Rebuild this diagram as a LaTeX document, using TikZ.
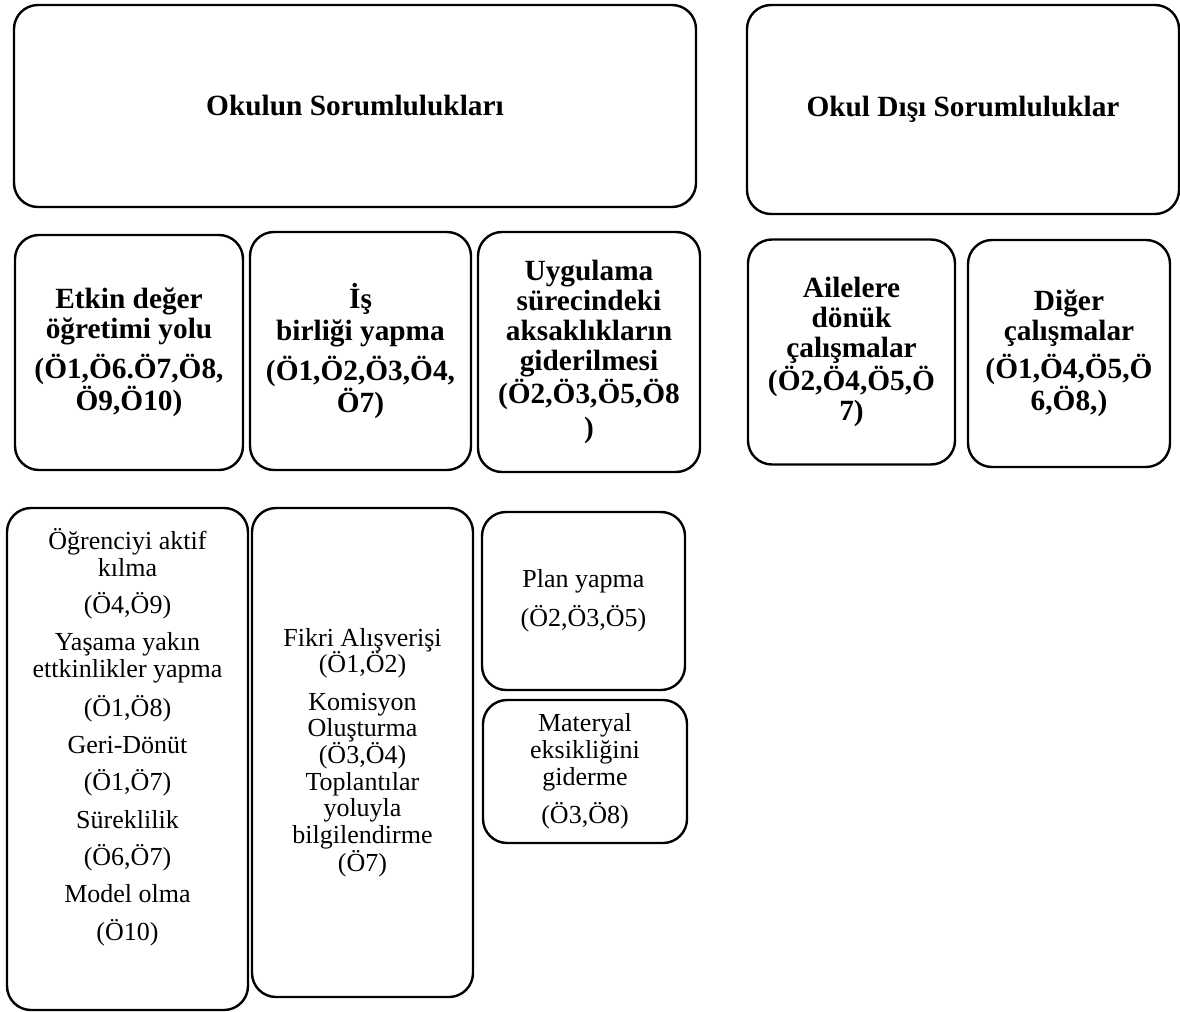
\documentclass[tikz,border=0pt]{standalone}
\usepackage{fontspec}
\setmainfont{Liberation Serif}
\tikzset{every picture/.style={line width=0.75pt}}
\tikzset{
	rbox/.style={draw, line width=1.8pt, rounded corners=18pt, align=center, inner sep=0pt},
	headtxt/.style={font=\fontsize{22}{22.5}\selectfont\bfseries},
	itemtxt/.style={font=\fontsize{19.5}{20}\selectfont}}

\begin{document}
\begin{tikzpicture}[x=0.75pt,y=0.75pt,yscale=-1,xscale=1]
	\useasboundingbox (0,0) rectangle (1180,1012);

	%Rounded Rect [okul]
	\node [rbox, headtxt, minimum width=511.5pt, minimum height=151.5pt] (okul) at (355,106) {Okulun Sorumlulukları};
	%Rounded Rect [disi]
	\node [rbox, headtxt, minimum width=324pt, minimum height=156.75pt] (disi) at (963,109.5) {Okul Dışı Sorumluluklar};

	%Rounded Rect [etkin]
	\node [rbox, headtxt, minimum width=171pt, minimum height=176.25pt] (etkin) at (129,352.5) {Etkin değer\\öğretimi yolu\\[6pt](Ö1,Ö6.Ö7,Ö8,\\Ö9,Ö10)};
	%Rounded Rect [isbir]
	\node [rbox, headtxt, minimum width=165.75pt, minimum height=178.5pt] (isbir) at (360.5,351) {İş\\[2pt]birliği yapma\\[6pt](Ö1,Ö2,Ö3,Ö4,\\Ö7)};
	%Rounded Rect [aksak]
	\node [rbox, headtxt, minimum width=166.5pt, minimum height=180pt] (aksak) at (589,352) {Uygulama\\sürecindeki\\aksaklıkların\\giderilmesi\\[0.5pt](Ö2,Ö3,Ö5,Ö8\\[3pt])};
	%Rounded Rect [aile]
	\node [rbox, headtxt, minimum width=155.25pt, minimum height=168.75pt] (aile) at (851.5,352) {Ailelere\\dönük\\çalışmalar\\[1pt](Ö2,Ö4,Ö5,Ö\\7)};
	%Rounded Rect [diger]
	\node [rbox, headtxt, minimum width=151.5pt, minimum height=170.25pt] (diger) at (1069,353.5) {Diğer\\çalışmalar\\[4.5pt](Ö1,Ö4,Ö5,Ö\\6,Ö8,)};

	%Rounded Rect [actv]
	\node [rbox, minimum width=180.75pt, minimum height=376.5pt] (actv) at (127.5,759) {};
	% Text Node
	\node [itemtxt, align=center] (actvtxt) at (127.5,737) {Öğrenciyi aktif\\kılma\\[8pt](Ö4,Ö9)\\[8pt]Yaşama yakın\\ettkinlikler yapma\\[8pt](Ö1,Ö8)\\[8pt]Geri-Dönüt\\[8pt](Ö1,Ö7)\\[8pt]Süreklilik\\[8pt](Ö6,Ö7)\\[8pt]Model olma\\[8pt](Ö10)};
	%Rounded Rect [fikir]
	\node [rbox, itemtxt, minimum width=165.75pt, minimum height=366.75pt] (fikir) at (362.5,752.5) {Fikri Alışverişi\\(Ö1,Ö2)\\[8pt]Komisyon\\Oluşturma\\(Ö3,Ö4)\\Toplantılar\\yoluyla\\bilgilendirme\\(Ö7)};
	%Rounded Rect [plan]
	\node [rbox, itemtxt, minimum width=152.25pt, minimum height=133.5pt] (plan) at (583.5,601) {Plan yapma\\[8pt](Ö2,Ö3,Ö5)};
	%Rounded Rect [mater]
	\node [rbox, itemtxt, minimum width=153pt, minimum height=107.25pt] (mater) at (585,771.5) {Materyal\\eksikliğini\\giderme\\[8pt](Ö3,Ö8)};

\end{tikzpicture}
\end{document}
